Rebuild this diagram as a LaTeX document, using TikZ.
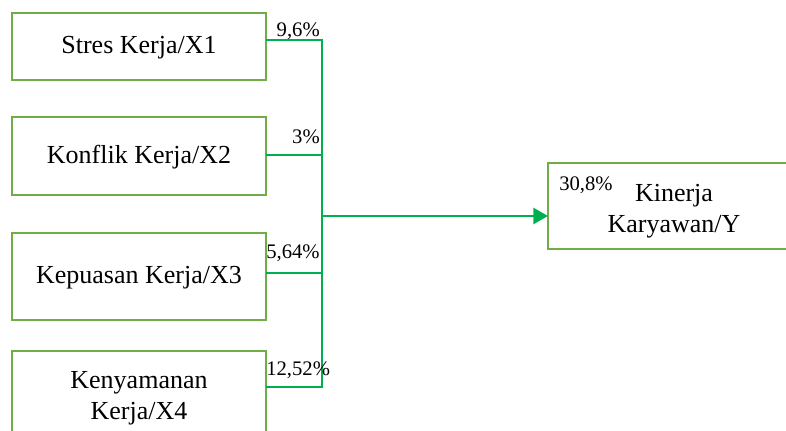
\documentclass[tikz,border=0pt]{standalone}
\usepackage{fontspec}
\setmainfont{Liberation Serif}
\usetikzlibrary{arrows.meta}
\definecolor{boxgreen}{RGB}{112,173,71}
\definecolor{linegreen}{RGB}{0,176,80}
\tikzset{
  varbox/.style={draw=boxgreen, line width=2.1pt, fill=white},
  boxtext/.style={font=\fontsize{19.5}{23}\selectfont, align=center, inner sep=0pt},
  pct/.style={font=\fontsize{15.5}{17}\selectfont, inner sep=0pt},
  link/.style={draw=linegreen, line width=2.1pt},
}
\begin{document}
\begin{tikzpicture}[x=0.75pt, y=-0.75pt]
\useasboundingbox (0,0) rectangle (786,430);
% variable boxes
\draw[varbox] (12,13) rectangle (266,80);
\draw[varbox] (12,117) rectangle (266,195);
\draw[varbox] (12,233) rectangle (266,320);
\draw[varbox] (12,351) rectangle (266,439);
\draw[varbox] (548,163) rectangle (800,249);
\node[boxtext] (x1) at (139,48) {Stres Kerja/X1};
\node[boxtext] (x2) at (139,157.5) {Konflik Kerja/X2};
\node[boxtext] (x3) at (139,278) {Kepuasan Kerja/X3};
\node[boxtext] (x4) at (139,398) {Kenyamanan\\Kerja/X4};
\node[boxtext] (y) at (674,211) {Kinerja\\Karyawan/Y};
% junction points
\coordinate (e1) at (266,40);
\coordinate (e2) at (266,155);
\coordinate (e3) at (266,273);
\coordinate (e4) at (266,387);
\coordinate (j1) at (322,40);
\coordinate (j2) at (322,155);
\coordinate (j3) at (322,273);
\coordinate (j4) at (322,387);
\coordinate (jm) at (322,216);
\coordinate (ye) at (548,216);
% connectors
\draw[link] (e1) -- (j1) -- (j4) -- (e4);
\draw[link] (e2) -- (j2);
\draw[link] (e3) -- (j3);
\draw[link, -{Triangle[length=11pt,width=12pt]}] (jm) -- (ye);
% path coefficients
\node[pct, anchor=south east] (p1) at (320,39.5) {9,6\%};
\node[pct, anchor=south east] (p2) at (320,144) {3\%};
\node[pct, anchor=south west] (p3) at (266,262) {5,64\%};
\node[pct, anchor=south west] (p4) at (266,379) {12,52\%};
\node[pct, anchor=west] (r2) at (559,185) {30,8\%};
\end{tikzpicture}
\end{document}
